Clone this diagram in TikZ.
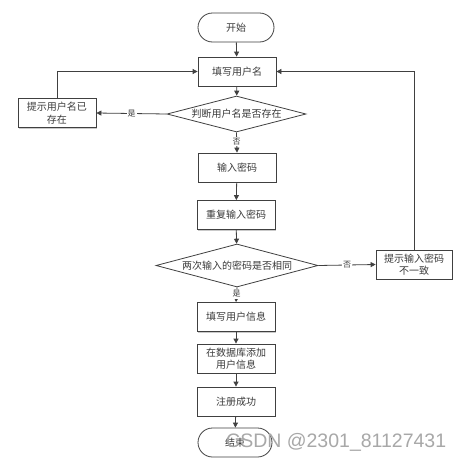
\documentclass[tikz,border=0pt]{standalone}
\usepackage{fontspec}
\setmainfont{Noto Sans CJK SC}
\newfontfamily\wmfont{Liberation Sans}
\usetikzlibrary{arrows.meta,shapes.geometric,shapes.misc,shadows}
\definecolor{ln}{HTML}{404040}
\definecolor{wm}{HTML}{A8A8A8}
\begin{document}
\begin{tikzpicture}[x=1pt,y=-1pt,
  every node/.style={font=\fontsize{10}{12.5}\selectfont, text=ln!90!black},
  boxst/.style={draw=ln, line width=0.8pt, fill=white, minimum width=78pt, minimum height=29pt, inner sep=1pt, align=center,
     drop shadow={shadow xshift=1pt, shadow yshift=-1pt, fill=black!35, opacity=0.6}},
  termst/.style={draw=ln, line width=0.8pt, fill=white, rounded rectangle, minimum width=78pt, minimum height=29pt, inner sep=1pt},
  decst/.style={draw=ln, line width=0.8pt, fill=white, diamond, aspect=3.8, inner sep=0pt, align=center},
  arr/.style={draw=ln, line width=0.8pt, -{Triangle[length=5pt,width=5pt]}},
  lab/.style={fill=white, inner sep=1pt, font=\fontsize{8}{9}\selectfont}
]
\useasboundingbox (0,0) rectangle (461,461);
\fill[white] (0,0) rectangle (461,461);

\node[termst] (start) at (236,27.5) {开始};
\node[boxst] (name) at (237,71.5) {填写用户名};
\node[decst, minimum width=139pt, minimum height=36pt] (d1) at (236.5,114) {判断用户名是否存在};
\node[boxst] (exist) at (57,113) {提示用户名已\\存在};
\node[boxst] (pw) at (237,167.5) {输入密码};
\node[boxst] (pw2) at (236,215) {重复输入密码};
\node[decst, minimum width=162pt, minimum height=43pt] (d2) at (237,265.5) {两次输入的密码是否相同};
\node[boxst, minimum width=76pt] (diff) at (414,264.5) {提示输入密码\\不一致};
\node[boxst] (info) at (236,317) {填写用户信息};
\node[boxst] (db) at (236,358.5) {在数据库添加\\用户信息};
\node[boxst] (ok) at (236,401.5) {注册成功};
\node[termst, minimum width=76pt] (end) at (235,442.5) {结束};

\coordinate (lc) at (exist.north |- name.west);
\coordinate (rc) at (diff.north |- name.east);

\draw[arr] (start) -- (name);
\draw[arr] (name) -- (d1);
\draw[arr] (d1.west) -- node[lab] {是} (exist.east);
\draw[arr] (exist.north) -- (lc) -- (name.west);
\draw[arr] (d1.south) -- node[lab, pos=0.45] {否} (pw.north);
\draw[arr] (pw) -- (pw2);
\draw[arr] (pw2) -- (d2);
\draw[arr] (d2.east) -- node[lab, pos=0.5] {否} (diff.west);
\draw[arr] (diff.north) -- (rc) -- (name.east);
\draw[arr] (d2.south) -- node[lab, pos=0.45] {是} (info.north);
\draw[arr] (info) -- (db);
\draw[arr] (db) -- (ok);
\draw[arr] (ok) -- (end);

\node[font=\wmfont\fontsize{19.5}{21}\selectfont, text=wm, anchor=west, inner sep=0pt] (wmk) at (226,442) {CSDN @2301\_81127431};
\end{tikzpicture}
\end{document}
